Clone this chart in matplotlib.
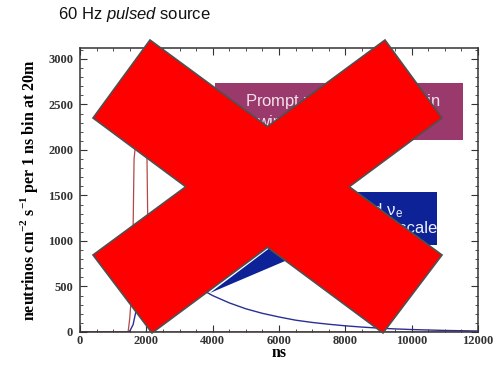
import numpy as np
import matplotlib
matplotlib.use("Agg")
import matplotlib.pyplot as plt
from matplotlib.patches import Polygon, Rectangle
from matplotlib.ticker import MultipleLocator

# prompt pulse (red) and delayed curve (blue)
red_t = [0, 1400, 1450, 1500, 1550, 1600, 1630, 1700, 1800, 1900, 2000, 2020, 2050, 2080, 2110, 2200, 12000]
red_v = [0, 0, 0, 150, 400, 1100, 1900, 2150, 2250, 2200, 2050, 1900, 1000, 300, 0, 0, 0]

blue_t = [0, 1450, 1500, 1600, 1700, 1800, 1900, 2000, 2100, 2300, 2600, 3000, 3500,
          4000, 4500, 5000, 5500, 6000, 6500, 7000, 7500, 8000, 8500, 9000, 9500,
          10000, 10500, 11000, 11500, 12000]
blue_v = [0, 0, 10, 80, 250, 450, 650, 820, 900, 830, 730, 620, 500,
          400, 320, 255, 205, 165, 130, 105, 85, 68, 54, 43, 34,
          27, 22, 17, 14, 11]

xticks = [0, 2000, 4000, 6000, 8000, 10000, 12000]
yticks = [0, 500, 1000, 1500, 2000, 2500, 3000]

title = "60 Hz $\\it{pulsed}$ source"
ylab = r"neutrinos cm$^{\mathbf{-2}}$ s$^{\mathbf{-1}}$ per 1 ns bin at 20m"
xlab = "ns"
prompt_txt = "Prompt $\\mathsf{\\nu_\\mu}$ from $\\mathsf{\\pi}$ decay in\nwindow of ns timescale"
delayed_txt = "Delayed $\\mathsf{\\nu_e}$\non \u03bcs timescale"

plt.rcParams['mathtext.fontset'] = 'custom'
plt.rcParams['mathtext.bf'] = 'Liberation Serif:bold'
plt.rcParams['mathtext.sf'] = 'Liberation Sans'
plt.rcParams['mathtext.it'] = 'Liberation Sans:italic'

W, H = 496, 369
def px(x, y):
    return (x / W, 1 - y / H)

fig = plt.figure(figsize=(W / 100, H / 100), dpi=100)
ax = fig.add_axes([80 / W, 1 - 332 / H, 398 / W, 284 / H])

ax.plot(blue_t, blue_v, color='#2b2f95', lw=1.0)
ax.plot(red_t, red_v, color='#b24848', lw=0.9)

ax.set_xlim(0, 12000)
ax.set_ylim(0, 3120)
ax.set_xticks(xticks)
ax.set_yticks(yticks)
ax.xaxis.set_minor_locator(MultipleLocator(500))
ax.yaxis.set_minor_locator(MultipleLocator(100))
tickfont = dict(family='Liberation Serif', weight='bold', size=9)
ax.set_xticklabels([str(v) for v in xticks], fontdict=tickfont)
ax.set_yticklabels([str(v) for v in yticks], fontdict=tickfont)
ax.tick_params(which='both', direction='in', top=True, right=True, colors='#333333')
ax.tick_params(which='major', length=5, width=0.8)
ax.tick_params(axis='y', which='major', pad=5)
ax.tick_params(axis='x', which='major', pad=2)
ax.tick_params(which='minor', length=2.5, width=0.6)
for sp in ax.spines.values():
    sp.set_linewidth(1.1)
    sp.set_color('#333333')

ax.set_ylabel(ylab, family='Liberation Serif', weight='bold', fontsize=11.5, labelpad=6)
ax.set_xlabel(xlab, family='Liberation Serif', weight='bold', fontsize=11.5, labelpad=-1)

fig.text(58 / W, 1 - 15 / H, title, family='Liberation Sans', fontsize=12,
         ha='left', va='center', color='#111111')

# callout boxes
x0, y0 = px(215, 140)
x1, y1 = px(463, 83)
fig.patches.append(Rectangle((x0, y0), x1 - x0, y1 - y0, transform=fig.transFigure,
                             facecolor='#9a3a6c', edgecolor='none', zorder=1.5))
fig.text((x0 + x1) / 2 + 4 / W, (y0 + y1) / 2, prompt_txt, family='Liberation Sans', fontsize=12,
         color='#f3dfe9', ha='center', va='center', zorder=2, linespacing=1.0)

x0, y0 = px(262, 245)
x1, y1 = px(437, 192)
fig.patches.append(Rectangle((x0, y0), x1 - x0, y1 - y0, transform=fig.transFigure,
                             facecolor='#0c2296', edgecolor='none', zorder=1.5))
fig.patches.append(Polygon([px(275, 244), px(325, 244), px(210, 293)], closed=True,
                           transform=fig.transFigure, facecolor='#0c2296',
                           edgecolor='none', zorder=1.5))
fig.text(321 / W, (y0 + y1) / 2, delayed_txt, family='Liberation Sans', fontsize=12,
         color='#eef0ff', ha='left', va='center', multialignment='left',
         zorder=2, linespacing=1.05)

# big red cross drawn over the chart
def inter(p1, p2, p3, p4):
    p1, p2, p3, p4 = map(np.array, (p1, p2, p3, p4))
    d1, d2 = p2 - p1, p4 - p3
    m = np.array([d1, -d2]).T
    t = np.linalg.solve(m, p3 - p1)[0]
    return tuple(p1 + t * d1)

a1, a2, a3, a4 = (150, 40), (442, 255), (383, 333), (93, 118)
b1, b2, b3, b4 = (385, 40), (442, 118), (152, 333), (93, 255)
cross = [a1, inter(a1, a2, b1, b4), b1, b2, inter(b2, b3, a1, a2), a2, a3,
         inter(a4, a3, b2, b3), b3, b4, inter(b1, b4, a4, a3), a4]
fig.patches.append(Polygon([px(*p) for p in cross], closed=True, transform=fig.transFigure,
                           facecolor='#ff0000', edgecolor='#505050', lw=1.2,
                           joinstyle='miter', zorder=5))

fig.savefig('out.png', dpi=100)
